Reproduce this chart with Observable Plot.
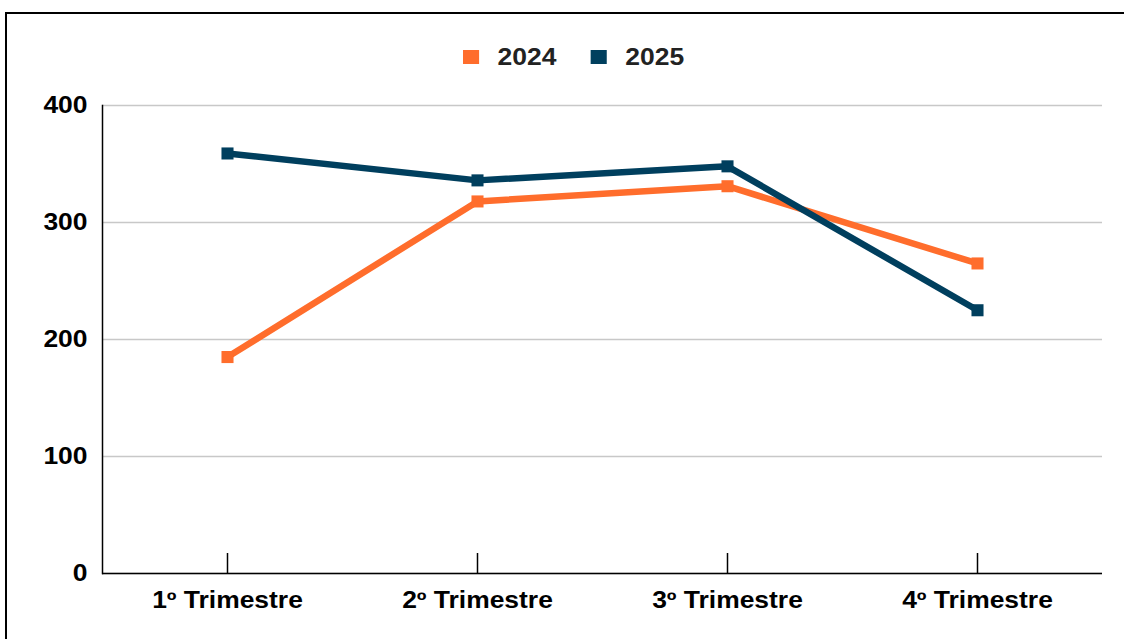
<!DOCTYPE html>
<html>
<head>
<meta charset="utf-8">
<script src="https://cdn.jsdelivr.net/npm/d3@7"></script>
<script src="https://cdn.jsdelivr.net/npm/@observablehq/plot@0.6"></script>
<style>
  html, body { margin: 0; padding: 0; background: #fff; overflow: hidden; }
  body { width: 1124px; height: 639px; position: relative; font-family: "Liberation Sans", Arial, sans-serif; }
  #frame { position: absolute; left: 5px; top: 12px; width: 1140px; height: 700px; border: 2px solid #000; box-sizing: border-box; }
  #legend { position: absolute; left: 463px; top: 45px; display: flex; align-items: center; transform: scaleX(1.15); transform-origin: left center; font-weight: bold; font-size: 23px; color: #222; line-height: 24px; }
  #legend .sw { width: 14px; height: 14px; display: inline-block; margin-right: 16px; }
  #legend .item { display: flex; align-items: center; }
  #legend .item + .item { margin-left: 30px; }
  #chart { position: absolute; left: 0; top: 80px; }
</style>
</head>
<body>
<div id="frame"></div>
<div id="legend"></div>
<div id="chart"></div>
<script>
// Quarterly values for each year
const quarters = ["1º Trimestre", "2º Trimestre", "3º Trimestre", "4º Trimestre"];
const years = ["2024", "2025"];
const values2024 = [185, 318, 331, 265];
const values2025 = [359, 336, 348, 225];
const yTicks = [0, 100, 200, 300, 400];
const colors = ["#FF6D2C", "#003F5E"];

const data = [
  ...quarters.map((q, i) => ({quarter: q, year: years[0], value: values2024[i]})),
  ...quarters.map((q, i) => ({quarter: q, year: years[1], value: values2025[i]}))
];

// Legend
const legend = document.getElementById("legend");
years.forEach((y, i) => {
  const item = document.createElement("div");
  item.className = "item";
  const sw = document.createElement("span");
  sw.className = "sw";
  sw.style.background = colors[i];
  const label = document.createElement("span");
  label.textContent = y;
  item.append(sw, label);
  legend.append(item);
});

const chart = Plot.plot({
  width: 1124,
  height: 559,
  marginTop: 25,
  marginBottom: 66,
  marginLeft: 102,
  marginRight: 22,
  style: {fontFamily: "'Liberation Sans', Arial, sans-serif", fontSize: "23px", fontWeight: "bold", color: "#000", background: "transparent"},
  x: {type: "point", domain: quarters, padding: 0.5, label: null},
  y: {domain: [0, 400], label: null},
  color: {domain: years, range: colors},
  marks: [
    Plot.gridY(yTicks, {stroke: "#c8c8c8", strokeOpacity: 1, strokeWidth: 1.5}),
    Plot.axisY(yTicks, {tickSize: 0, tickPadding: 15, fill: "#000"}),
    Plot.axisX({tickSize: -20, tickPadding: 38, stroke: "#000", strokeWidth: 1.5, fill: "#000"}),
    Plot.ruleY([0], {stroke: "#000", strokeWidth: 1.5}),
    Plot.frame({anchor: "left", stroke: "#000", strokeWidth: 1.5}),
    Plot.line(data, {x: "quarter", y: "value", stroke: "year", strokeWidth: 6.5}),
    Plot.dot(data, {x: "quarter", y: "value", fill: "year", symbol: "square", r: 6.8})
  ]
});

// Widen axis label glyphs horizontally
d3.select(chart).selectAll('g[aria-label="x-axis tick label"] text, g[aria-label="y-axis tick label"] text').each(function() {
  const t = d3.select(this);
  const tr = t.attr("transform");
  if (tr) {
    t.attr("transform", tr + " scale(1.15,1)");
  } else {
    const x = +t.attr("x") || 0, y = +t.attr("y") || 0;
    t.attr("x", null).attr("y", null).attr("transform", `translate(${x},${y}) scale(1.15,1)`);
  }
});

document.getElementById("chart").append(chart);
</script>
</body>
</html>
